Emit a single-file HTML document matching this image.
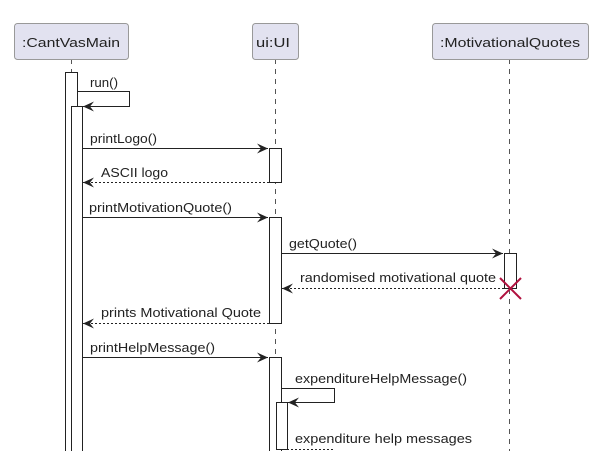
<!DOCTYPE html>
<html><head><meta charset="utf-8"><style>
html,body{margin:0;padding:0;background:#fff;}
svg{display:block;}
text{font-family:"Liberation Sans",sans-serif;font-size:13px;fill:#222;}
</style></head><body>
<svg width="605" height="451" viewBox="0 0 605 451" xmlns="http://www.w3.org/2000/svg">
<defs>
<marker id="a" markerWidth="12" markerHeight="10" refX="11" refY="5" orient="auto" markerUnits="userSpaceOnUse">
<path d="M0,0 L11,5 L0,10 L4,5 Z" fill="#222"/></marker>
</defs>
<g stroke="#555" stroke-dasharray="5,5" stroke-width="1">
<line x1="71.5" y1="59" x2="71.5" y2="451"/>
<line x1="275.5" y1="59" x2="275.5" y2="451"/>
<line x1="509.5" y1="59" x2="509.5" y2="451"/>
</g>
<g fill="#e2e2f0" stroke="#999" stroke-width="1">
<rect x="14.5" y="23.5" width="114" height="36" rx="3"/>
<rect x="252.5" y="23.5" width="46" height="36" rx="3"/>
<rect x="432.5" y="23.5" width="156" height="36" rx="3"/>
</g>
<text x="22" y="47" textLength="98" lengthAdjust="spacingAndGlyphs" font-size="14.5">:CantVasMain</text>
<text x="256" y="47" textLength="34" lengthAdjust="spacingAndGlyphs" font-size="14.5">ui:UI</text>
<text x="440" y="47" textLength="140" lengthAdjust="spacingAndGlyphs" font-size="14.5">:MotivationalQuotes</text>
<g fill="#fff" stroke="#222" stroke-width="1">
<rect x="65.5" y="72.5" width="12" height="390"/>
<rect x="71.5" y="106.5" width="11" height="360"/>
<rect x="269.5" y="148.5" width="12" height="34"/>
<rect x="269.5" y="217.5" width="12" height="106"/>
<rect x="504.5" y="253.5" width="12" height="35"/>
<rect x="269.5" y="357.5" width="12" height="100"/>
<rect x="276.5" y="402.5" width="11" height="47"/>
</g>
<g stroke="#222" stroke-width="1" fill="none">
<polyline points="77,91.5 129.5,91.5 129.5,106.5 83,106.5" marker-end="url(#a)"/>
<line x1="82" y1="148.5" x2="268" y2="148.5" marker-end="url(#a)"/>
<line x1="269" y1="182.5" x2="83" y2="182.5" stroke-dasharray="2,2" marker-end="url(#a)"/>
<line x1="82" y1="217.5" x2="268" y2="217.5" marker-end="url(#a)"/>
<line x1="281" y1="253.5" x2="503" y2="253.5" marker-end="url(#a)"/>
<line x1="504" y1="288.5" x2="282" y2="288.5" stroke-dasharray="2,2" marker-end="url(#a)"/>
<line x1="269" y1="323.5" x2="83" y2="323.5" stroke-dasharray="2,2" marker-end="url(#a)"/>
<line x1="82" y1="357.5" x2="268" y2="357.5" marker-end="url(#a)"/>
<polyline points="281,388.5 334.5,388.5 334.5,402.5 288,402.5" marker-end="url(#a)"/>
<polyline points="287,449.5 334.5,449.5" stroke-dasharray="2,2"/>
</g>
<g stroke="#b0103e" stroke-width="2">
<line x1="500" y1="278" x2="521" y2="299"/>
<line x1="521" y1="278" x2="500" y2="299"/>
</g>
<text x="90" y="87" textLength="28" lengthAdjust="spacingAndGlyphs">run()</text>
<text x="90" y="143" textLength="67" lengthAdjust="spacingAndGlyphs">printLogo()</text>
<text x="101" y="177" textLength="67" lengthAdjust="spacingAndGlyphs">ASCII logo</text>
<text x="89" y="212" textLength="143" lengthAdjust="spacingAndGlyphs">printMotivationQuote()</text>
<text x="289" y="248" textLength="68" lengthAdjust="spacingAndGlyphs">getQuote()</text>
<text x="300" y="282" textLength="196" lengthAdjust="spacingAndGlyphs">randomised motivational quote</text>
<text x="101" y="317" textLength="160" lengthAdjust="spacingAndGlyphs">prints Motivational Quote</text>
<text x="90" y="352" textLength="125" lengthAdjust="spacingAndGlyphs">printHelpMessage()</text>
<text x="295" y="383" textLength="172" lengthAdjust="spacingAndGlyphs">expenditureHelpMessage()</text>
<text x="295" y="443" textLength="177" lengthAdjust="spacingAndGlyphs">expenditure help messages</text>
</svg>
</body></html>
